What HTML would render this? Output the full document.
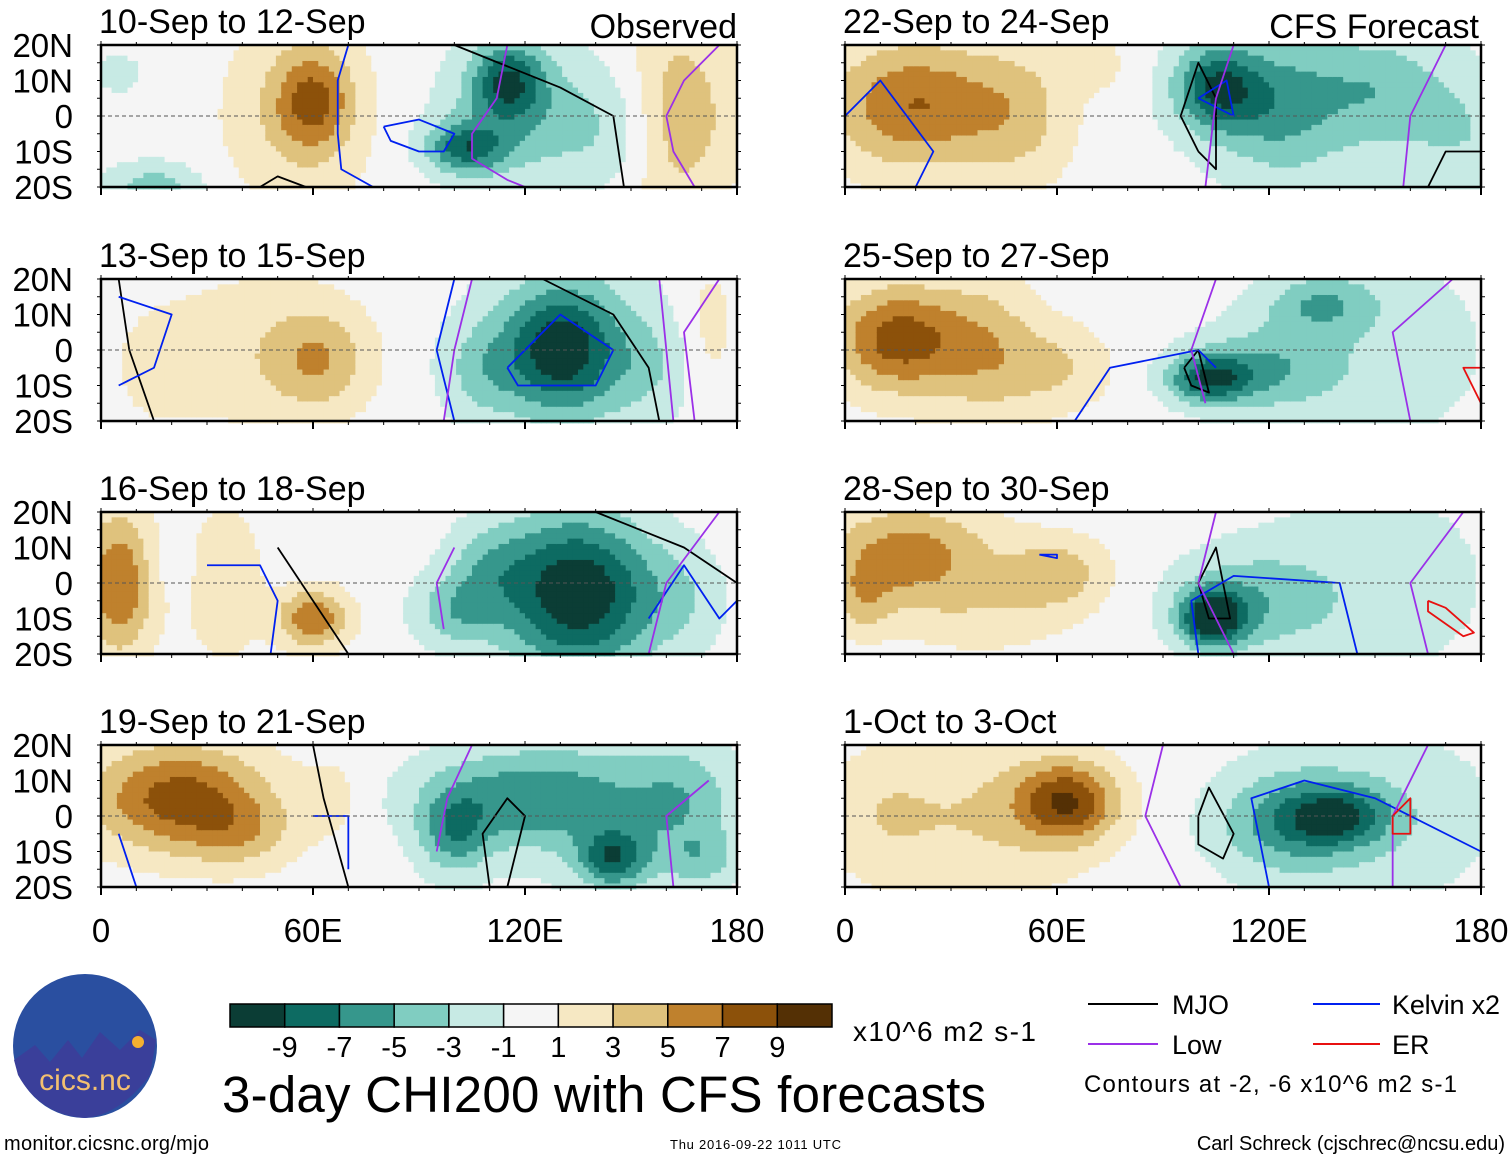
<!DOCTYPE html>
<html><head><meta charset="utf-8"><style>
body{margin:0;background:#fff;}
svg{display:block;font-family:"Liberation Sans",sans-serif;}
</style></head><body>
<svg id="fig" width="1510" height="1159" viewBox="0 0 1510 1159">
<g id="panels"></g>
<g id="labels"></g>
<g id="bottom">
  <circle cx="85" cy="1046" r="72" fill="#2a4fa0"/>
  <path d="M14 1060 L35 1045 L50 1062 L68 1040 L82 1058 L100 1032 L120 1050 L140 1030 L156 1040 L150 1075 Q120 1115 85 1118 Q40 1115 18 1075Z" fill="#3a3f9a"/>
  <circle cx="138" cy="1042" r="6" fill="#f5b030"/>
  <text x="85" y="1090" font-size="30" fill="#f3c070" text-anchor="middle">cics.nc</text>
  <g id="cbar"></g>
  <text x="853" y="1041" font-size="28" textLength="183">x10^6 m2 s-1</text>
  <text x="222" y="1112" font-size="51" textLength="764">3-day CHI200 with CFS forecasts</text>
  <line x1="1088" y1="1004" x2="1158" y2="1004" stroke="#000" stroke-width="2"/>
  <text x="1172" y="1014" font-size="27">MJO</text>
  <line x1="1088" y1="1044" x2="1158" y2="1044" stroke="#9b30e8" stroke-width="2"/>
  <text x="1172" y="1054" font-size="27">Low</text>
  <line x1="1313" y1="1004" x2="1380" y2="1004" stroke="#0020f0" stroke-width="2"/>
  <text x="1392" y="1014" font-size="27" textLength="108">Kelvin x2</text>
  <line x1="1313" y1="1044" x2="1380" y2="1044" stroke="#e81010" stroke-width="2"/>
  <text x="1392" y="1054" font-size="27">ER</text>
  <text x="1084" y="1092" font-size="24" textLength="373">Contours at -2, -6 x10^6 m2 s-1</text>
  <text x="4" y="1150" font-size="20" textLength="205">monitor.cicsnc.org/mjo</text>
  <text x="670" y="1149" font-size="13" textLength="171">Thu 2016-09-22 1011 UTC</text>
  <text x="1505" y="1150" font-size="20" text-anchor="end">Carl Schreck (cjschrec@ncsu.edu)</text>
</g>
</svg>
<script>
const levels=[-9,-7,-5,-3,-1,1,3,5,7,9];
const colors=["#0b3d35","#0d6b62","#36978c","#80cdc1","#c7eae4","#f5f5f5","#f6e8c3","#dfc27d","#bf812d","#8c510a","#543005"];
const cbarLabels=["-9","-7","-5","-3","-1","1","3","5","7","9"];
const titles=["10-Sep to 12-Sep","13-Sep to 15-Sep","16-Sep to 18-Sep","19-Sep to 21-Sep","22-Sep to 24-Sep","25-Sep to 27-Sep","28-Sep to 30-Sep","1-Oct to 3-Oct"];
const latTicks=["20N","10N","0","10S","20S"];
const lonTicks=["0","60E","120E","180"];
// blobs: [lon, lat, amplitude, lonRadius, latRadius]
const blobs1=[[60,4,6,11,14],[55,0,2.5,22,30],[5,12,-1.5,10,8],[15,-20,-4,14,7],[115,10,-7,10,11],[103,-9,-7,11,7],[120,0,-4,24,20],[145,-5,-1.5,15,15],[162,0,4,12,30],[175,0,1.5,10,25]];
const blobs2=[[130,0,-7,14,16],[132,2,-4,25,25],[108,-6,-3,12,14],[62,-3,4,14,14],[45,0,2.2,25,22],[172,5,2,8,20],[15,-5,1.2,15,20],[155,-5,-2,15,15]];
const blobs3=[[5,0,7,10,20],[60,-10,7,10,8],[35,0,3,10,20],[135,-3,-11,22,22],[100,-8,-4,12,10],[165,-5,-2,12,15],[20,5,-1,8,8],[110,5,-3,12,12]];
const blobs4=[[22,5,8,25,15],[40,-5,3,15,10],[65,5,2,8,10],[120,5,-6,30,14],[100,-5,-5,10,12],[145,-12,-7,10,8],[165,5,-3,15,15],[170,-12,-3,10,8],[150,0,-2,30,25]];
const blobs5=[[20,3,7,25,18],[50,0,3,15,20],[105,8,-8,12,12],[122,3,-4,16,18],[150,8,-3,20,14],[175,-5,-2,15,15],[70,15,2,10,8],[140,0,-2,40,30]];
const blobs6=[[15,3,8,18,15],[40,0,4,15,20],[60,-5,3,15,12],[103,-8,-8,12,7],[120,-5,-4,20,12],[135,13,-4,15,8],[150,0,-2,35,30]];
const blobs7=[[18,8,6,24,14],[60,3,4,14,10],[40,-8,2,25,12],[104,-10,-10,9,8],[115,-5,-4,22,14],[150,0,-2,35,30],[5,-5,3,8,10]];
const blobs8=[[63,4,8,14,11],[40,0,3,30,22],[140,0,-6,14,8],[125,-2,-5,20,14],[150,0,-2.5,35,25],[10,0,2,15,18]];
const allBlobs=[blobs1,blobs2,blobs3,blobs4,blobs5,blobs6,blobs7,blobs8];
// contours: [panelIndex, [lon,lat,...]]
const mjoC=[[0,[100,20,130,8,145,0,148,-20]],[0,[45,-20,50,-17,58,-20]],[1,[5,20,8,0,15,-20]],[1,[125,20,145,10,155,-5,158,-20]],[2,[140,20,165,10,180,0]],[2,[50,10,60,-5,70,-20]],[3,[60,20,63,5,70,-20]],[3,[110,-20,108,-5,115,5,120,0,115,-20]],[4,[100,-10,95,0,100,15,105,5,105,-15,100,-10]],[4,[165,-20,170,-10,180,-10]],[5,[96,-5,100,0,103,-12,98,-10,96,-5]],[6,[100,0,105,10,109,-10,103,-10,100,0]],[7,[100,0,103,8,110,-5,107,-12,100,-8,100,0]]];
const kelC=[[0,[70,20,67,10,67,-5,68,-15,77,-20]],[0,[80,-3,90,-1,100,-5,97,-10,90,-10,82,-7,80,-3]],[1,[5,15,20,10,15,-5,5,-10]],[1,[115,-5,130,10,145,0,140,-10,118,-10,115,-5]],[1,[100,20,95,0,100,-20]],[2,[30,5,45,5,50,-5,48,-20]],[2,[155,-10,165,5,175,-10,180,-5]],[3,[5,-5,10,-20]],[3,[60,0,70,0,70,-15]],[4,[0,0,10,10,25,-10,20,-20]],[4,[100,5,108,10,110,0,100,5]],[5,[65,-20,75,-5,100,0,105,-5]],[6,[100,-20,98,-5,110,2,140,0,145,-20]],[6,[55,8,60,7,60,8,55,8]],[7,[120,-20,115,5,130,10,150,5,180,-10]]];
const lowC=[[0,[115,20,112,5,105,-5,105,-12,115,-18,120,-20]],[0,[175,20,165,10,160,0,162,-10,168,-20]],[1,[105,20,100,0,97,-20]],[1,[158,20,160,0,162,-20]],[1,[175,20,165,5,168,-20]],[2,[100,10,95,0,97,-13]],[2,[175,20,160,0,155,-20]],[3,[105,20,98,5,95,-10]],[3,[172,10,160,0,162,-20]],[4,[110,20,105,5,102,-20]],[4,[170,20,160,0,158,-20]],[5,[105,20,98,0,102,-15]],[5,[172,20,155,5,160,-20]],[6,[105,20,100,0,110,-20]],[6,[175,20,160,0,165,-20]],[7,[90,20,85,0,95,-20]],[7,[165,20,155,0,155,-20]]];
const erC=[[5,[180,-5,175,-5,180,-15]],[6,[165,-5,170,-7,178,-14,175,-15,165,-8,165,-5]],[7,[155,0,160,5,160,-5,155,-5,155,0]]];
const NS='http://www.w3.org/2000/svg';
const panelX=[101,845], panelW=636, panelY=[45,279,512,745], panelH=142;
function mk(t,a,p){const e=document.createElementNS(NS,t);for(const k in a)e.setAttribute(k,a[k]);p.appendChild(e);return e;}
function colorFor(v){let i=0;while(i<levels.length&&v>=levels[i])i++;return colors[i];}
function geom(idx){const col=idx<4?0:1,row=idx%4;const x0=panelX[col],y0=panelY[row];return {x0,y0,xs:l=>x0+l/180*panelW,ys:a=>y0+(20-a)/40*panelH};}
const panels=document.getElementById('panels');
const groups=[];
allBlobs.forEach((bl,idx)=>{
  const {x0,y0,xs,ys}=geom(idx);
  const g=mk('g',{},panels);
  
  
  groups.push(g);
  const step=1.5;
  for(let lon=0;lon<180;lon+=step){for(let lat=20;lat>-20;lat-=step){
    const cl=lon+step/2,ca=lat-step/2;let v=0;
    bl.forEach(b=>{const dx=(cl-b[0])/b[3],dy=(ca-b[1])/b[4];v+=b[2]*Math.exp(-(dx*dx+dy*dy));});
    const r=mk('rect',{x:xs(lon),y:ys(lat),width:panelW/120+0.6,height:panelH*step/40+0.6,fill:colorFor(v)},g);
    
    
  }}
});
function drawC(list,color,name){list.forEach(c=>{const {xs,ys}=geom(c[0]);const p=c[1];let pts=[];for(let i=0;i<p.length;i+=2)pts.push(xs(p[i])+','+ys(p[i+1]));
  const e=mk('polyline',{points:pts.join(' '),fill:'none',stroke:color,'stroke-width':1.8,'stroke-linejoin':'round'},groups[c[0]]);
  
  });}
drawC(mjoC,'#000','mjo-contour');drawC(kelC,'#0020f0','kelvin-contour');drawC(lowC,'#9b30e8','low-contour');drawC(erC,'#e81010','er-contour');
allBlobs.forEach((bl,idx)=>{
  const {x0,y0,xs,ys}=geom(idx);const g=groups[idx];
  mk('line',{x1:x0,y1:ys(0),x2:x0+panelW,y2:ys(0),stroke:'#555','stroke-dasharray':'4,3','stroke-width':1},g);
  mk('rect',{x:x0,y:y0,width:panelW,height:panelH,fill:'none',stroke:'#000','stroke-width':2.5},g);
  for(let l=0;l<=180;l+=10){const big=l%60==0;
    mk('line',{x1:xs(l),y1:y0+panelH,x2:xs(l),y2:y0+panelH+(big?8:4),stroke:'#000','stroke-width':big?2:1},g);
    mk('line',{x1:xs(l),y1:y0,x2:xs(l),y2:y0-(big?4:3),stroke:'#000','stroke-width':1},g);}
  for(let a=-20;a<=20;a+=5){mk('line',{x1:x0,y1:ys(a),x2:x0-4,y2:ys(a),stroke:'#000'},g);mk('line',{x1:x0+panelW,y1:ys(a),x2:x0+panelW+4,y2:ys(a),stroke:'#000'},g);}
  const t=mk('text',{x:x0-2,y:y0-12,'font-size':34},g);t.textContent=titles[idx];
  
  
});
const lab=document.getElementById('labels');
panelY.forEach(y0=>{latTicks.forEach((s,i)=>{const t=mk('text',{x:73,y:y0+i*panelH/4+12,'font-size':33,'text-anchor':'end'},lab);t.textContent=s;
  
  });});
panelX.forEach(x0=>{lonTicks.forEach((s,i)=>{const t=mk('text',{x:x0+i*panelW/3,y:942,'font-size':33,'text-anchor':'middle'},lab);t.textContent=s;
  
  });});
let t1=mk('text',{x:737,y:38,'font-size':34,'text-anchor':'end'},lab);t1.textContent='Observed';


let t2=mk('text',{x:1479,y:38,'font-size':34,'text-anchor':'end'},lab);t2.textContent='CFS Forecast';


const cb=document.getElementById('cbar');const bw=602/11;
colors.forEach((c,i)=>{const r=mk('rect',{x:230+i*bw,y:1004,width:bw,height:23,fill:c,stroke:'#000','stroke-width':1.5},cb);
  
  });
cbarLabels.forEach((s,i)=>{const t=mk('text',{x:230+(i+1)*bw,y:1057,'font-size':29,'text-anchor':'middle'},cb);t.textContent=s;
  
  });
</script>
</body></html>
